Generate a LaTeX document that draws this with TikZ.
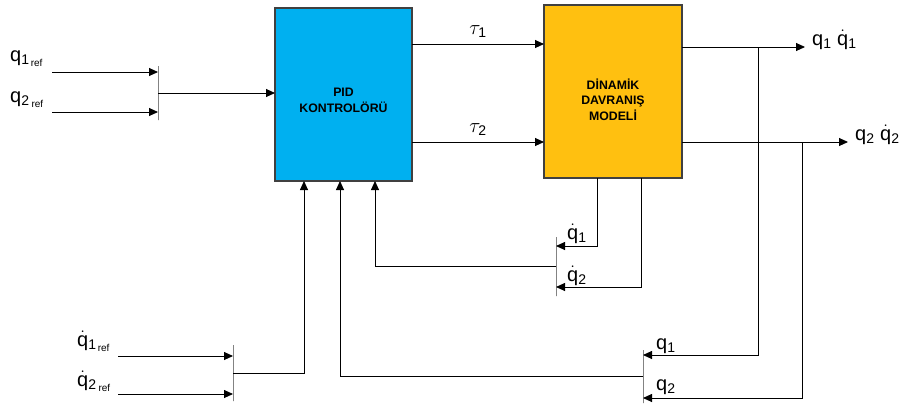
\documentclass[tikz,border=0pt]{standalone}
\usepackage{fontspec}
\setmainfont{Liberation Sans}
\usetikzlibrary{arrows.meta,positioning}
\definecolor{pidblue}{RGB}{0,176,240}
\definecolor{dynorange}{RGB}{255,192,16}
\definecolor{edgegray}{RGB}{64,64,64}
\newcommand{\qdt}{\dot{\mathrm{q}}}

\begin{document}
\begin{tikzpicture}[x=1pt,y=-1pt,
  blk/.style={draw=edgegray, line width=1.2pt, inner sep=0pt, outer sep=0pt,
    anchor=north west, minimum width=137pt, minimum height=173pt},
  btxt/.style={align=center, font=\fontsize{12.3}{15.5}\selectfont\bfseries},
  bar/.style={draw=edgegray, line width=1pt, inner sep=0pt, outer sep=0pt, minimum width=0pt},
  sig/.style={line width=0.9pt, -{Triangle[length=9pt,width=8pt]}},
  lbl/.style={anchor=base west, inner sep=0pt, font=\fontsize{20}{24}\selectfont}]
  \useasboundingbox (0,0) rectangle (899,405);
  % Blocks
  \node[blk, fill=pidblue] (pid) at (275,8) {};
  \node[blk, fill=dynorange, minimum width=138pt] (dyn) at (544,5) {};
  \node[btxt] (pidtxt) at ([yshift=-6pt]pid.center) {PID\\KONTROLÖRÜ};
  \node[btxt] (dyntxt) at ([yshift=-8pt]dyn.center) {DİNAMİK\\DAVRANIŞ\\MODELİ};
  % Reference positions
  \coordinate (r1) at (52,72);
  \coordinate (r2) at (52,112);
  \node[bar, minimum height=54pt] (muxA) at (158,93) {};
  \draw[sig] (r1) -- (r1 -| muxA.west);
  \draw[sig] (r2) -- (r2 -| muxA.west);
  \draw[sig] (muxA) -- (muxA -| pid.west);
  \node[lbl] (lr1) at (10,61) {$\mathrm{q_{1_{\,ref}}}$};
  \node[lbl] (lr2) at (10,102) {$\mathrm{q_{2\,{}_{ref}}}$};
  % Reference velocities
  \coordinate (rd1) at (118,356);
  \coordinate (rd2) at (118,394);
  \node[bar, minimum height=56pt] (muxB) at (233,373) {};
  \draw[sig] (rd1) -- (rd1 -| muxB.west);
  \draw[sig] (rd2) -- (rd2 -| muxB.west);
  \draw[sig] (muxB) -| ([xshift=-39.5pt]pid.south);
  \node[lbl] (lrd1) at (77,346) {$\qdt_{\mathrm{1_{\,ref}}}$};
  \node[lbl] (lrd2) at (77,386) {$\qdt_{\mathrm{2\,{}_{ref}}}$};
  % Torques
  \coordinate (t1) at ([yshift=50.5pt]pid.east);
  \coordinate (t2) at ([yshift=-47.5pt]pid.east);
  \draw[sig] (t1) -- (t1 -| dyn.west) node[midway, above=3pt, font=\fontsize{20}{24}\selectfont] (lt1) {$\tau_{\mathrm{1}}$};
  \draw[sig] (t2) -- (t2 -| dyn.west) node[midway, above=3pt, font=\fontsize{20}{24}\selectfont] (lt2) {$\tau_{\mathrm{2}}$};
  % Outputs
  \coordinate (o1) at (805,47);
  \coordinate (o2) at (848,142);
  \draw[sig] (o1 -| dyn.east) -- (o1);
  \draw[sig] (o2 -| dyn.east) -- (o2);
  \node[lbl] (lo1) at (812,45) {$\mathrm{q_1}\ \qdt_{\mathrm{1}}$};
  \node[lbl] (lo2) at (855,140) {$\mathrm{q_2}\ \qdt_{\mathrm{2}}$};
  % Velocity feedback
  \node[bar, minimum height=59pt] (muxC) at (556,266.5) {};
  \draw[sig] ([xshift=-16pt]dyn.south) |- ([yshift=20.5pt]muxC.east);
  \draw[sig] ([xshift=28pt]dyn.south) |- ([yshift=-20.5pt]muxC.east);
  \draw[sig] (muxC) -| ([xshift=31.5pt]pid.south);
  \node[lbl] (lf1) at (567,239) {$\qdt_{\mathrm{1}}$};
  \node[lbl] (lf2) at (567,281) {$\qdt_{\mathrm{2}}$};
  % Position feedback
  \coordinate (j1) at (758,47);
  \coordinate (j2) at (802,142);
  \node[bar, minimum height=53pt] (muxD) at (643,376.5) {};
  \draw[sig] (j1) |- ([yshift=21.5pt]muxD.east);
  \draw[sig] (j2) |- ([yshift=-21.5pt]muxD.east);
  \draw[sig] (muxD) -| ([xshift=-3.5pt]pid.south);
  \node[lbl] (lp1) at (656,349) {$\mathrm{q_1}$};
  \node[lbl] (lp2) at (656,390) {$\mathrm{q_2}$};
\end{tikzpicture}
\end{document}
